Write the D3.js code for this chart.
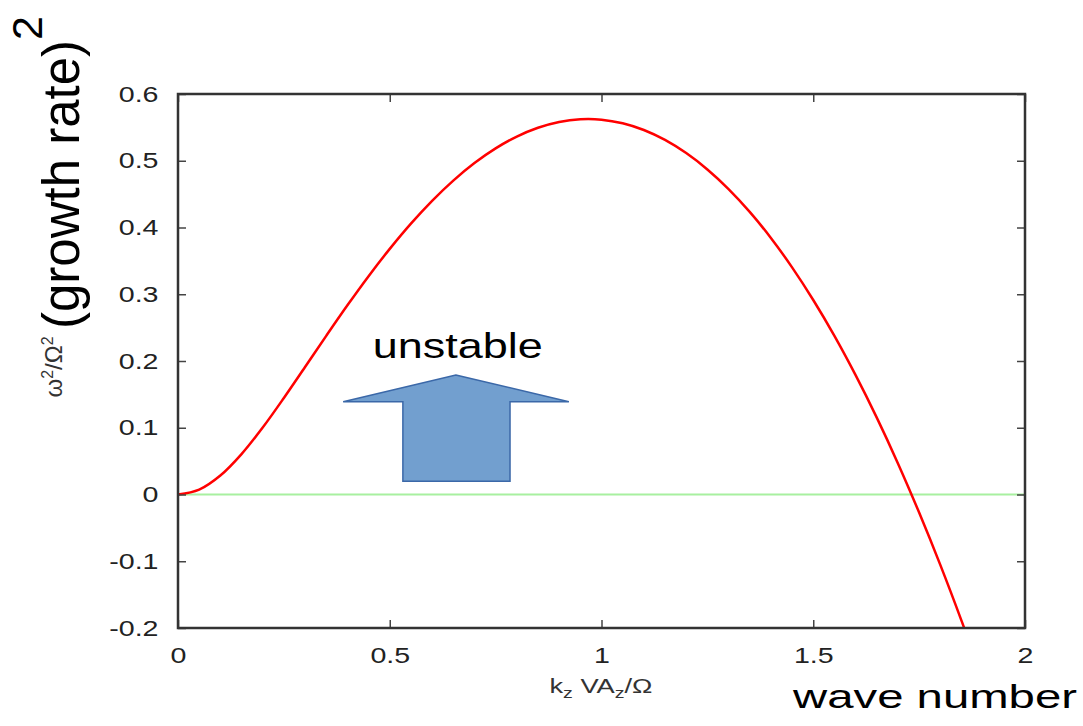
<!DOCTYPE html>
<html>
<head>
<meta charset="utf-8">
<script src="https://cdn.jsdelivr.net/npm/d3@7"></script>
<style>
  body { margin: 0; background: #fff; }
  text { font-family: "Liberation Sans", Arial, sans-serif; }
</style>
</head>
<body>
<div id="chart"></div>
<script>
// wave number k_z VA_z / Omega
var kValues = [0, 0.05, 0.1, 0.15, 0.2, 0.25, 0.3, 0.35, 0.4, 0.45,
  0.5, 0.55, 0.6, 0.65, 0.7, 0.75, 0.8, 0.85, 0.9, 0.95,
  1.0, 1.05, 1.1, 1.15, 1.2, 1.25, 1.3, 1.35, 1.4, 1.45,
  1.5, 1.55, 1.6, 1.65, 1.7, 1.75, 1.8, 1.85, 1.9];

// (growth rate)^2 = omega^2 / Omega^2
var growthSq = [0, 0.0074, 0.0285, 0.0606, 0.1003, 0.1446, 0.1910, 0.2377, 0.2834, 0.3271,
  0.3680, 0.4058, 0.4400, 0.4703, 0.4966, 0.5186, 0.5363, 0.5495, 0.5582, 0.5622,
  0.5616, 0.5562, 0.5461, 0.5312, 0.5115, 0.4870, 0.4576, 0.4234, 0.3843, 0.3403,
  0.2914, 0.2376, 0.1788, 0.1152, 0.0466, -0.0270, -0.1054, -0.1889, -0.2772];

var xTicks = [0, 0.5, 1, 1.5, 2];
var xTickLabels = ["0", "0.5", "1", "1.5", "2"];
var yTicks = [-0.2, -0.1, 0, 0.1, 0.2, 0.3, 0.4, 0.5, 0.6];
var yTickLabels = ["-0.2", "-0.1", "0", "0.1", "0.2", "0.3", "0.4", "0.5", "0.6"];

var svgWidth = 1083;
var svgHeight = 726;
var margin = { top: 94, right: 58, bottom: 98, left: 178 };
var width = svgWidth - margin.left - margin.right;
var height = svgHeight - margin.top - margin.bottom;

var svg = d3.select("#chart")
  .append("svg")
  .attr("width", svgWidth)
  .attr("height", svgHeight);

var chartGroup = svg.append("g")
  .attr("transform", `translate(${margin.left}, ${margin.top})`);

// scales
var xScale = d3.scaleLinear().domain([0, 2]).range([0, width]);
var yScale = d3.scaleLinear().domain([-0.2, 0.6]).range([height, 0]);

svg.append("defs").append("clipPath")
  .attr("id", "plotClip")
  .append("rect")
  .attr("width", width)
  .attr("height", height);

// zero line
chartGroup.append("line")
  .attr("x1", xScale(0))
  .attr("x2", xScale(2))
  .attr("y1", yScale(0))
  .attr("y2", yScale(0))
  .attr("stroke", "#a8f0a0")
  .attr("stroke-width", 2);

// growth rate curve
var points = kValues.map(function(k, i) { return [k, growthSq[i]]; });
var line = d3.line()
  .x(d => xScale(d[0]))
  .y(d => yScale(d[1]))
  .curve(d3.curveCatmullRom);

chartGroup.append("path")
  .datum(points)
  .attr("clip-path", "url(#plotClip)")
  .attr("d", line)
  .attr("fill", "none")
  .attr("stroke", "#ff0000")
  .attr("stroke-width", 2.5);

// axes with inward ticks (gnuplot style)
var xFmt = function(d) { return xTickLabels[xTicks.indexOf(d)]; };
var yFmt = function(d) { return yTickLabels[yTicks.indexOf(d)]; };

var bottomAxis = chartGroup.append("g")
  .attr("transform", `translate(0, ${height})`)
  .call(d3.axisBottom(xScale).tickValues(xTicks).tickFormat(xFmt)
    .tickSizeInner(-8).tickSizeOuter(0).tickPadding(19));

var leftAxis = chartGroup.append("g")
  .call(d3.axisLeft(yScale).tickValues(yTicks).tickFormat(yFmt)
    .tickSizeInner(-8).tickSizeOuter(0).tickPadding(15));

var topAxis = chartGroup.append("g")
  .call(d3.axisTop(xScale).tickValues(xTicks).tickFormat("")
    .tickSizeInner(-8).tickSizeOuter(0));

var rightAxis = chartGroup.append("g")
  .attr("transform", `translate(${width}, 0)`)
  .call(d3.axisRight(yScale).tickValues(yTicks).tickFormat("")
    .tickSizeInner(-8).tickSizeOuter(0));

[bottomAxis, leftAxis, topAxis, rightAxis].forEach(function(ax) {
  ax.select(".domain").remove();
  ax.selectAll("line").attr("stroke", "#444").attr("stroke-width", 1.5);
  ax.selectAll("text")
    .attr("fill", "#222")
    .style("font-family", "'Liberation Sans', Arial, sans-serif")
    .style("font-size", "22px")
    .attr("transform", "scale(1.3,1)");
});

// frame
chartGroup.append("rect")
  .attr("width", width)
  .attr("height", height)
  .attr("fill", "none")
  .attr("stroke", "#333")
  .attr("stroke-width", 2.5);

// "unstable" arrow annotation (data units)
var arrow = [[0.656, 0.179], [0.923, 0.139], [0.784, 0.139], [0.784, 0.020],
  [0.531, 0.020], [0.531, 0.139], [0.390, 0.139]];
chartGroup.append("polygon")
  .attr("points", arrow.map(p => xScale(p[0]) + "," + yScale(p[1])).join(" "))
  .attr("fill", "#729fcf")
  .attr("stroke", "#3b68a8")
  .attr("stroke-width", 1.5);

chartGroup.append("text")
  .attr("x", xScale(0.46))
  .attr("y", yScale(0.204))
  .attr("textLength", 170)
  .attr("lengthAdjust", "spacingAndGlyphs")
  .style("font-size", "35px")
  .attr("fill", "#000")
  .text("unstable");

// small gnuplot axis labels
var xLab = svg.append("text")
  .attr("transform", "translate(601, 693) scale(1.3,1)")
  .attr("text-anchor", "middle")
  .attr("fill", "#333")
  .style("font-size", "21px");
xLab.append("tspan").text("k");
xLab.append("tspan").attr("dy", 5).style("font-size", "15px").text("z");
xLab.append("tspan").attr("dy", -5).text(" VA");
xLab.append("tspan").attr("dy", 5).style("font-size", "15px").text("z");
xLab.append("tspan").attr("dy", -5).text("/Ω");

var yLab = svg.append("text")
  .attr("transform", "translate(62, 367) rotate(-90)")
  .attr("text-anchor", "middle")
  .attr("fill", "#333")
  .style("font-size", "24px");
yLab.append("tspan").text("ω");
yLab.append("tspan").attr("dy", -9).style("font-size", "16px").text("2");
yLab.append("tspan").attr("dy", 9).text("/Ω");
yLab.append("tspan").attr("dy", -9).style("font-size", "16px").text("2");

// large labels
var bigY = svg.append("text")
  .attr("transform", "translate(79, 329) rotate(-90)")
  .attr("fill", "#000")
  .style("font-size", "51px");
bigY.append("tspan").text("(growth rate)");
bigY.append("tspan").attr("dy", -37).style("font-size", "43px").text("2");

svg.append("text")
  .attr("x", 793)
  .attr("y", 708)
  .attr("textLength", 284)
  .attr("lengthAdjust", "spacingAndGlyphs")
  .attr("fill", "#000")
  .style("font-size", "33px")
  .text("wave number");
</script>
</body>
</html>
